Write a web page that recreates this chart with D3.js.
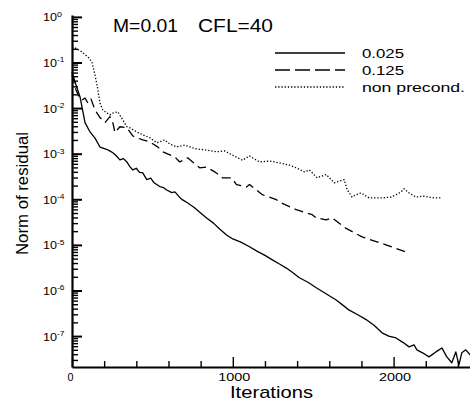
<!DOCTYPE html>
<html>
<head>
<meta charset="utf-8">
<script src="https://cdn.jsdelivr.net/npm/d3@7"></script>
<style>
  html, body { margin: 0; padding: 0; background: #fff; }
  svg { display: block; }
  text { font-family: "Liberation Sans", Arial, Helvetica, sans-serif; fill: #000; }
</style>
</head>
<body>
<svg id="chart" width="470" height="401"></svg>
<script>
// ---------------- data ----------------
const seriesNames = ["0.025", "0.125", "non precond."];

const iterSolid = [0,25,50,81,112,143,174,215,235,254,275,298,320,341,360,378,400,420,440,465,490,510,546,570,589,620,640,670,688,720,760,800,837,880,920,961,1000,1050,1104,1150,1200,1246,1290,1333,1370,1414,1470,1519,1580,1643,1690,1724,1780,1829,1880,1928,1970,2015,2060,2096,2127,2145,2180,2220,2263,2300,2331,2362,2387,2406,2424,2449,2480];
const resSolid = [6.2e-2,3.2e-2,1.76e-2,4.8e-3,3.0e-3,2.2e-3,1.4e-3,1.25e-3,1.15e-3,1.05e-3,9e-4,7.3e-4,7.8e-4,6.6e-4,5.2e-4,4.4e-4,4.8e-4,3.9e-4,3.8e-4,2.7e-4,2.9e-4,2.3e-4,1.9e-4,1.8e-4,1.6e-4,1.4e-4,1.45e-4,1.1e-4,9.7e-5,8.3e-5,6.6e-5,5.0e-5,3.9e-5,3.0e-5,2.2e-5,1.65e-5,1.35e-5,1.15e-5,9.1e-6,7.3e-6,5.9e-6,4.7e-6,3.8e-6,3.1e-6,2.5e-6,1.9e-6,1.5e-6,1.15e-6,8.5e-7,6.2e-7,4.6e-7,3.7e-7,2.9e-7,2.3e-7,1.7e-7,1.18e-7,1.0e-7,9.1e-8,7.2e-8,5.8e-8,6.4e-8,5.0e-8,4.3e-8,3.5e-8,4.5e-8,5.5e-8,3.5e-8,2.6e-8,4.5e-8,2.3e-8,4.3e-8,5.0e-8,3.7e-8];

const iterDashed = [0,25,43,62,81,99,118,143,174,205,236,254,267,298,341,378,403,440,484,533,564,639,670,719,750,794,837,887,936,992,1023,1085,1104,1184,1271,1290,1395,1494,1519,1581,1618,1705,1804,1953,2096];
const resDashed = [5.4e-2,2.5e-2,1.78e-2,1.5e-2,1.66e-2,1.29e-2,1.58e-2,9.1e-3,6.2e-3,4.8e-3,6.5e-3,4.8e-3,2.9e-3,3.9e-3,3.7e-3,2.45e-3,2.24e-3,2.0e-3,1.82e-3,1.41e-3,1.1e-3,8.5e-4,6.6e-4,8.1e-4,6.6e-4,4.9e-4,5.1e-4,4.0e-4,2.95e-4,2.95e-4,2.1e-4,1.86e-4,2.1e-4,1.26e-4,9.8e-5,8.7e-5,5.9e-5,4.6e-5,3.9e-5,3.55e-5,3.9e-5,2.3e-5,1.5e-5,1.0e-5,6.6e-6];

const iterDotted = [0,19,62,105,124,143,161,174,192,217,236,254,285,316,341,360,403,440,484,527,577,608,651,701,763,837,899,949,998,1060,1104,1166,1228,1290,1352,1395,1445,1476,1525,1550,1581,1631,1662,1693,1711,1742,1767,1798,1848,1928,1984,2015,2046,2065,2096,2139,2189,2220,2257,2294];
const resDotted = [0.219,0.209,0.17,0.126,0.102,0.054,0.025,0.0129,9.1e-3,7.8e-3,7.1e-3,7.8e-3,8.3e-3,5.5e-3,3.9e-3,3.7e-3,3.0e-3,2.6e-3,2.24e-3,1.74e-3,2.0e-3,1.62e-3,1.41e-3,1.55e-3,1.29e-3,1.2e-3,1.1e-3,1.15e-3,9.3e-4,7.2e-4,8.9e-4,6.6e-4,6.9e-4,6.3e-4,5.6e-4,4.9e-4,4.0e-4,4.4e-4,2.95e-4,3.2e-4,3.5e-4,2.3e-4,2.5e-4,2.7e-4,1.62e-4,1.12e-4,1.26e-4,1.38e-4,1.07e-4,1.07e-4,1.12e-4,1.26e-4,1.45e-4,1.7e-4,1.38e-4,1.12e-4,1.17e-4,1.12e-4,1.07e-4,1.07e-4];

const xMajorTicks = [0, 1000, 2000];
const xMinorTicks = [200, 400, 600, 800, 1200, 1400, 1600, 1800, 2200, 2400];
const yExponents = [0, -1, -2, -3, -4, -5, -6, -7];

// ---------------- layout ----------------
const svg = d3.select("#chart");
const x = d3.scaleLinear().domain([0, 2500]).range([72, 474]);
const y = d3.scaleLog().domain([2.1e-8, 1.1]).range([367, 15]);

// Minor y ticks (2..9 in each decade)
const yMinor = [];
for (let e = -8; e < 0; e++) for (let m = 2; m <= 9; m++) {
  const v = m * Math.pow(10, e);
  if (v >= y.domain()[0] && v <= y.domain()[1]) yMinor.push(v);
}
const yMajor = yExponents.map(e => Math.pow(10, e));

// y axis: minor ticks
svg.append("g").attr("transform", "translate(72,0)")
  .call(d3.axisLeft(y).tickValues(yMinor).tickSizeInner(-6).tickSizeOuter(0).tickFormat(""))
  .call(g => g.select(".domain").remove())
  .call(g => g.selectAll("line").attr("stroke", "#000").attr("stroke-width", 1.4));
// y axis: major ticks + line
svg.append("g").attr("transform", "translate(72,0)")
  .call(d3.axisLeft(y).tickValues(yMajor).tickSizeInner(-10).tickSizeOuter(0).tickFormat(""))
  .call(g => g.select(".domain").attr("stroke", "#000").attr("stroke-width", 2.2))
  .call(g => g.selectAll("line").attr("stroke", "#000").attr("stroke-width", 2));

// x axis: minor ticks
svg.append("g").attr("transform", "translate(0,367)")
  .call(d3.axisBottom(x).tickValues(xMinorTicks).tickSizeInner(-6).tickSizeOuter(0).tickFormat(""))
  .call(g => g.select(".domain").remove())
  .call(g => g.selectAll("line").attr("stroke", "#000").attr("stroke-width", 1.4));
// x axis: major ticks + line
svg.append("g").attr("transform", "translate(0,367)")
  .call(d3.axisBottom(x).tickValues(xMajorTicks).tickSizeInner(-10).tickSizeOuter(0).tickFormat(""))
  .call(g => g.select(".domain").attr("stroke", "#000").attr("stroke-width", 2.2))
  .call(g => g.selectAll("line").attr("stroke", "#000").attr("stroke-width", 1.4));

// y tick labels 10^e
yExponents.forEach(e => {
  const t = svg.append("text").attr("x", 43).attr("y", y(Math.pow(10, e)) + 4.5)
    .attr("font-size", 10);
  t.append("tspan").attr("textLength", 14).attr("lengthAdjust", "spacingAndGlyphs").text("10");
  t.append("tspan").attr("font-size", 7.5).attr("dy", -4.5)
    .attr("textLength", e === 0 ? 5 : 7.5).attr("lengthAdjust", "spacingAndGlyphs")
    .text(e === 0 ? "0" : "-" + Math.abs(e));
});

// x tick labels
xMajorTicks.forEach(v => {
  svg.append("text").attr("x", x(v) + (v === 0 ? -1.5 : 1.5)).attr("y", 381)
    .attr("text-anchor", "middle").attr("font-size", 11)
    .attr("textLength", v === 0 ? 6 : 32).attr("lengthAdjust", "spacingAndGlyphs")
    .text(String(v));
});

// axis titles
svg.append("text").attr("x", 271.5).attr("y", 398).attr("text-anchor", "middle")
  .attr("font-size", 17).attr("textLength", 83).attr("lengthAdjust", "spacingAndGlyphs")
  .text("Iterations");
svg.append("text").attr("transform", "translate(27.5,193.5) rotate(-90)")
  .attr("text-anchor", "middle").attr("font-size", 16)
  .attr("textLength", 123).attr("lengthAdjust", "spacingAndGlyphs")
  .text("Norm of residual");

// title
svg.append("text").attr("x", 113).attr("y", 31.5).attr("font-size", 18)
  .attr("textLength", 65).attr("lengthAdjust", "spacingAndGlyphs").text("M=0.01");
svg.append("text").attr("x", 198).attr("y", 31.5).attr("font-size", 18)
  .attr("textLength", 75).attr("lengthAdjust", "spacingAndGlyphs").text("CFL=40");

// ---------------- lines ----------------
const line = d3.line().x(d => x(d[0])).y(d => y(d[1]));
const series = [
  { it: iterSolid, v: resSolid, dash: null, leg: null },
  { it: iterDashed, v: resDashed, dash: "9,5", leg: "15,5" },
  { it: iterDotted, v: resDotted, dash: "1.3,1.9", leg: "1.3,1.9" }
];
series.forEach(s => {
  const pts = s.it.map((d, i) => [d, s.v[i]]);
  const p = svg.append("path").datum(pts).attr("d", line)
    .attr("fill", "none").attr("stroke", "#000").attr("stroke-width", 1.3)
    .attr("stroke-linejoin", "round");
  if (s.dash) p.attr("stroke-dasharray", s.dash);
});

// ---------------- legend ----------------
const legY = [53, 70, 87];
const legW = [42, 42, 103];
seriesNames.forEach((name, i) => {
  const l = svg.append("line").attr("x1", 275).attr("x2", 345)
    .attr("y1", legY[i]).attr("y2", legY[i])
    .attr("stroke", "#000").attr("stroke-width", 1.3);
  if (series[i].leg) l.attr("stroke-dasharray", series[i].leg);
  svg.append("text").attr("x", 362).attr("y", legY[i] + 4.5).attr("font-size", 12.5)
    .attr("textLength", legW[i]).attr("lengthAdjust", "spacingAndGlyphs").text(name);
});
</script>
</body>
</html>
